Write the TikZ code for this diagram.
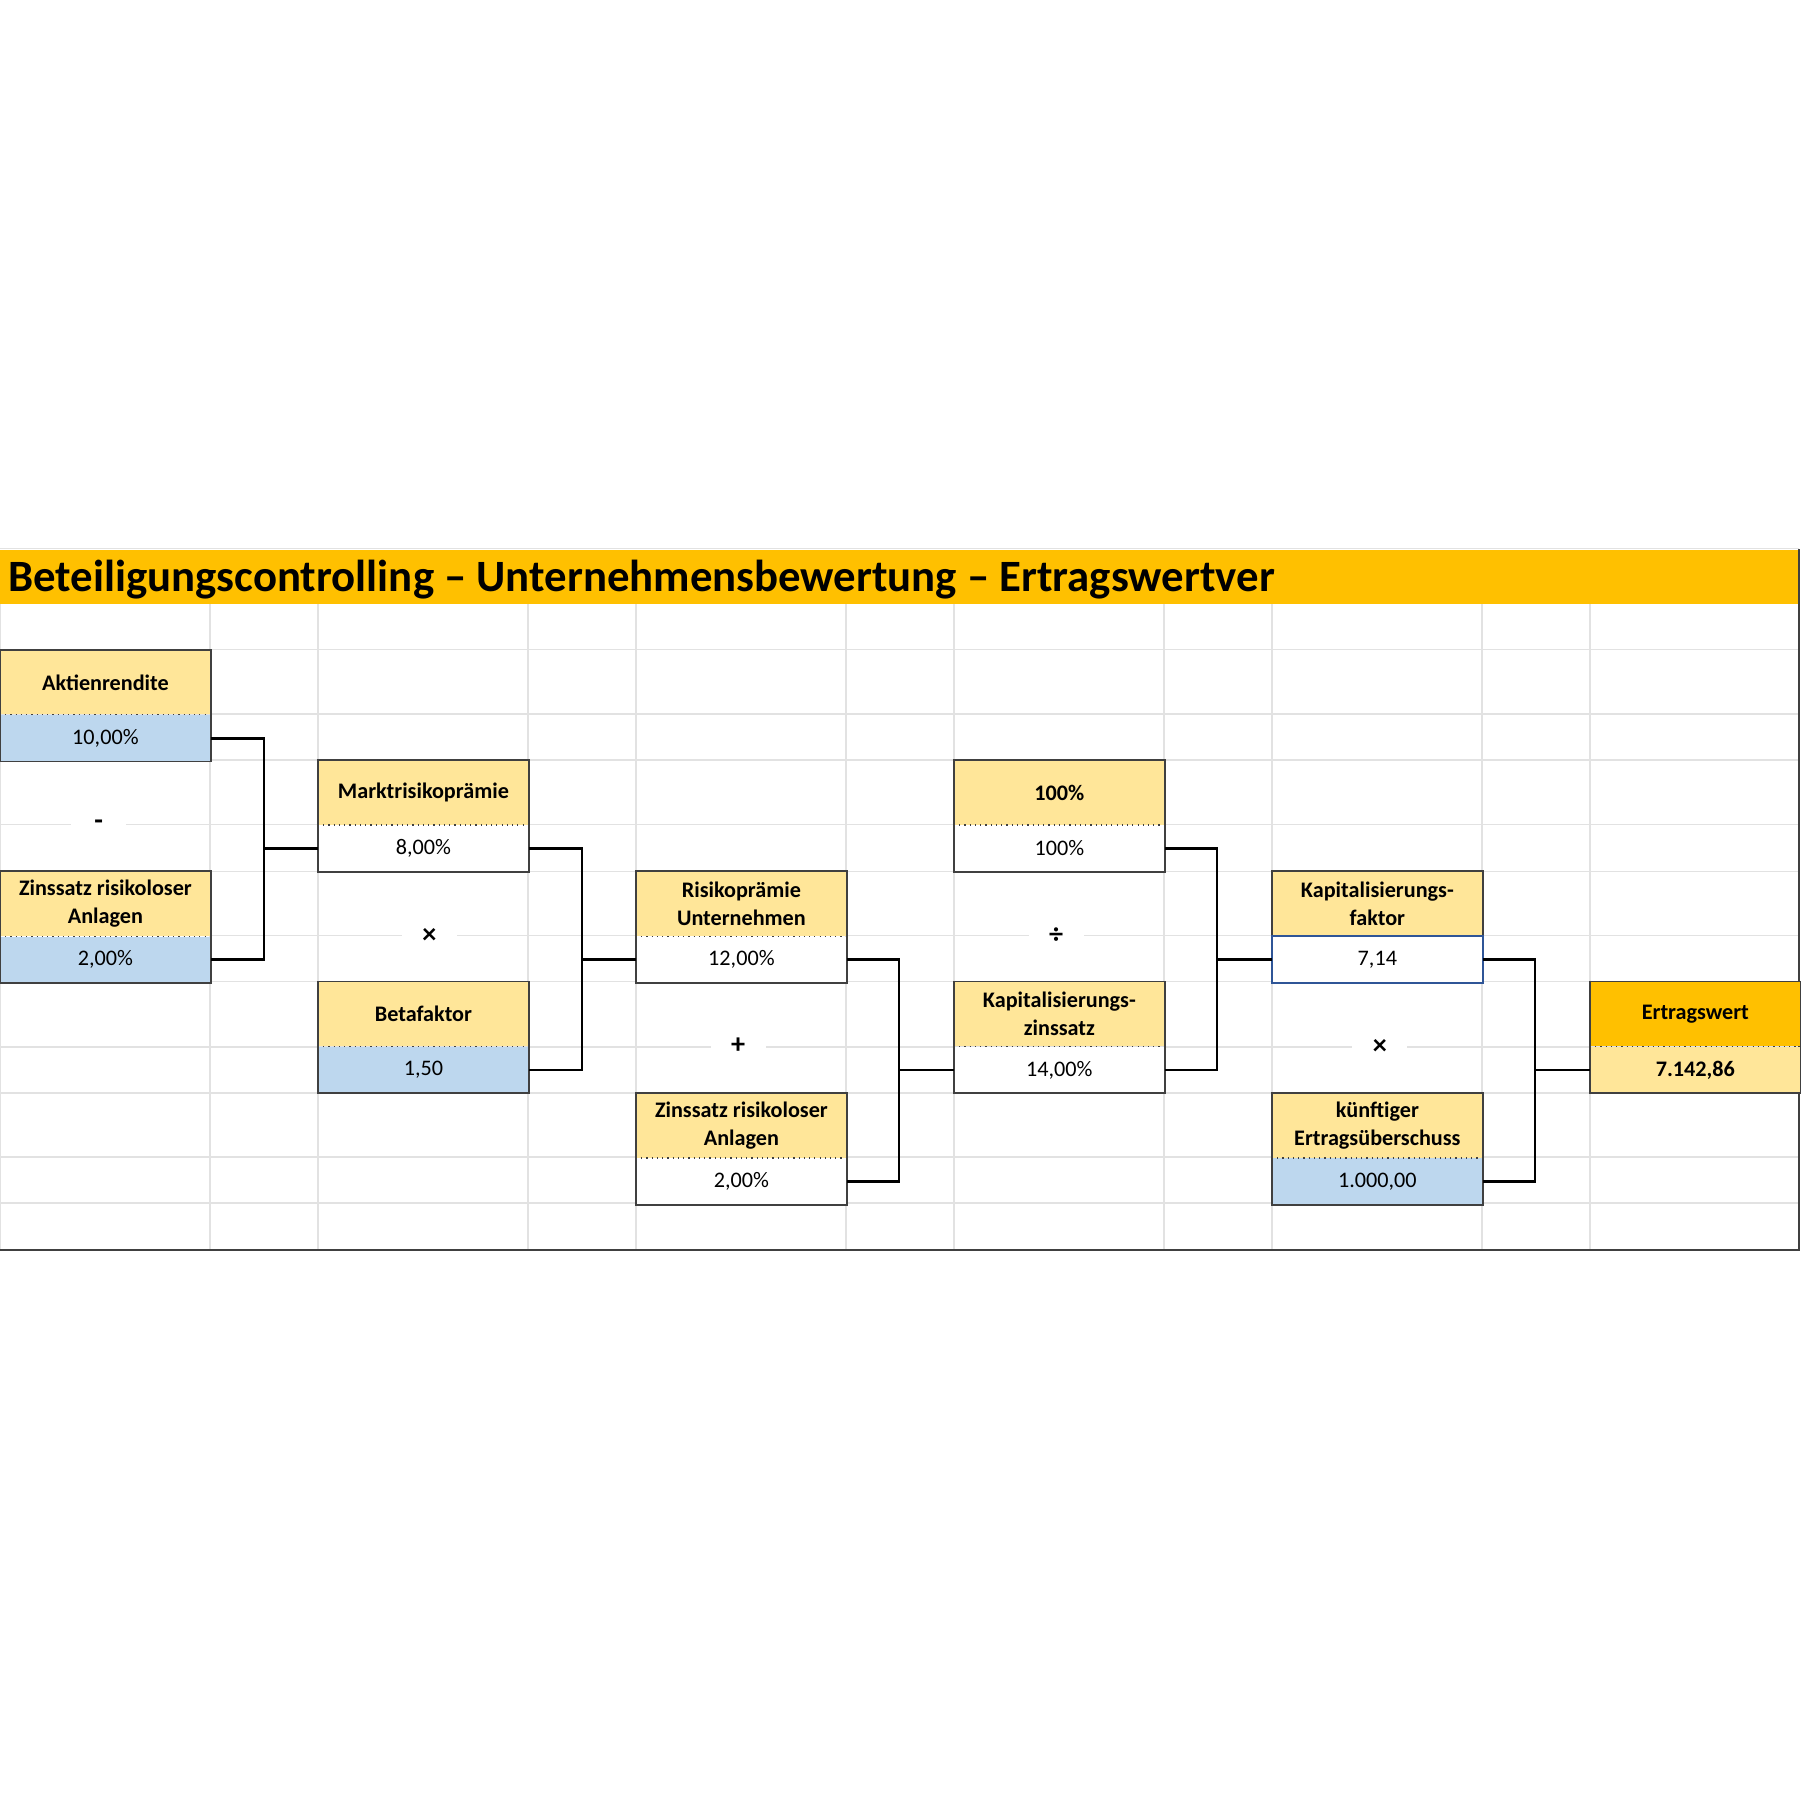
\documentclass[tikz,border=0pt]{standalone}
\usepackage{fontspec}
\setmainfont{Carlito}
\usepackage{tikz}
\usetikzlibrary{positioning}
\definecolor{titleorange}{RGB}{255,192,0}
\definecolor{softyellow}{RGB}{255,230,153}
\definecolor{softblue}{RGB}{189,215,238}
\definecolor{gridgray}{RGB}{226,226,226}
\definecolor{framegray}{RGB}{64,64,64}
\definecolor{selblue}{RGB}{47,85,151}
\tikzset{
  head/.style={rectangle, fill=softyellow, minimum width=3.66cm, minimum height=1.12cm,
               inner sep=0pt, align=center, font=\fontsize{11}{14}\selectfont\bfseries},
  headorange/.style={head, fill=titleorange},
  val/.style={rectangle, fill=white, minimum width=3.66cm, minimum height=0.8cm,
              inner sep=0pt, align=center, font=\fontsize{11}{14}\selectfont},
  valblue/.style={val, fill=softblue},
  valyellow/.style={val, fill=softyellow, font=\fontsize{11}{14}\selectfont\bfseries},
  boxframe/.style={draw=framegray, line width=0.9pt},
  sepline/.style={draw=framegray, line width=0.6pt, dotted},
  conn/.style={draw=black, line width=1.3pt},
  gridline/.style={draw=gridgray, line width=0.7pt},
  operator/.style={fill=white, minimum width=0.96cm, inner sep=1pt, font=\fontsize{14}{16}\selectfont\bfseries},
}

\begin{document}
\begin{tikzpicture}[x=0.02cm, y=-0.02cm]
\useasboundingbox (0,0) rectangle (1568,1568);
% sheet grid
\foreach \y in {566,622,662,718,759,815,855,912,952,1008,1048}
  \draw[gridline] (0,\y) -- (1567,\y);
\foreach \x in {0,183,277,460,554,737,831,1014,1108,1291,1385}
  \draw[gridline] (\x,526) -- (\x,1089);
\draw[gridline] (0,478) -- (1567,478);
\fill[titleorange] (0,479) rectangle (1567,526);
\draw[draw=framegray, line width=1pt] (0,1089) -- (1567,1089) -- (1567,478);
\node[anchor=base west, inner sep=0pt, font=\fontsize{22.2}{26}\selectfont\bfseries] (title) at (7,515)
  {Beteiligungscontrolling – Unternehmensbewertung – Ertragswertver};

% operators
\node[operator] (minus) at (86,718) {-};
\node[operator] (mal1) at (374,815) {×};
\node[operator] (plus) at (643,911) {+};
\node[operator] (geteilt) at (920,815) {÷};
\node[operator] (mal2) at (1202,912) {×};

% boxes
\node[head, anchor=north west] (akt-h) at (0,566) {Aktienrendite};
\node[valblue, below=0pt of akt-h] (akt-v) {10,00\%};
\node[head, anchor=north west] (zins-h) at (0,759) {Zinssatz risikoloser\\Anlagen};
\node[valblue, below=0pt of zins-h] (zins-v) {2,00\%};
\node[head, anchor=north west] (markt-h) at (277,662) {Marktrisikoprämie};
\node[val, below=0pt of markt-h] (markt-v) {8,00\%};
\node[head, anchor=north west] (beta-h) at (277,855) {Betafaktor};
\node[valblue, below=0pt of beta-h] (beta-v) {1,50};
\node[head, anchor=north west] (rp-h) at (554,759) {Risikoprämie\\Unternehmen};
\node[val, below=0pt of rp-h] (rp-v) {12,00\%};
\node[head, anchor=north west] (zins2-h) at (554,952) {Zinssatz risikoloser\\Anlagen};
\node[val, below=0pt of zins2-h] (zins2-v) {2,00\%};
\node[head, anchor=north west] (hund-h) at (831,662) {100\%};
\node[val, below=0pt of hund-h] (hund-v) {100\%};
\node[head, anchor=north west] (kz-h) at (831,855) {Kapitalisierungs-\\zinssatz};
\node[val, below=0pt of kz-h] (kz-v) {14,00\%};
\node[head, anchor=north west] (kf-h) at (1108,759) {Kapitalisierungs-\\faktor};
\node[val, below=0pt of kf-h] (kf-v) {7,14};
\node[head, anchor=north west] (ue-h) at (1108,952) {künftiger\\Ertragsüberschuss};
\node[valblue, below=0pt of ue-h] (ue-v) {1.000,00};
\node[headorange, anchor=north west] (ew-h) at (1385,855) {Ertragswert};
\node[valyellow, below=0pt of ew-h] (ew-v) {7.142,86};
\foreach \b in {akt, zins, markt, beta, rp, zins2, hund, kz, kf, ue, ew} {
  \draw[boxframe] (\b-h.north west) rectangle (\b-v.south east);
  \draw[sepline] (\b-h.south west) -- (\b-h.south east);
}
\draw[draw=selblue, line width=1pt] (kf-v.north west) rectangle (kf-v.south east);

% connectors
\path (markt-v.west) ++(-47,0) coordinate (j1);
\path (rp-v.west) ++(-47,0) coordinate (j2);
\path (kz-v.west) ++(-48,0) coordinate (j3);
\path (kf-v.west) ++(-48,0) coordinate (j4);
\path (ew-v.west) ++(-48,0) coordinate (j5);
\foreach \a/\j/\b/\c in {akt/j1/zins/markt, markt/j2/beta/rp, rp/j3/zins2/kz, hund/j4/kz/kf, kf/j5/ue/ew} {
  \draw[conn] (\a-v.east) -| (\j) |- (\b-v.east);
  \draw[conn] (\j) -- (\c-v.west);
}
\end{tikzpicture}
\end{document}
